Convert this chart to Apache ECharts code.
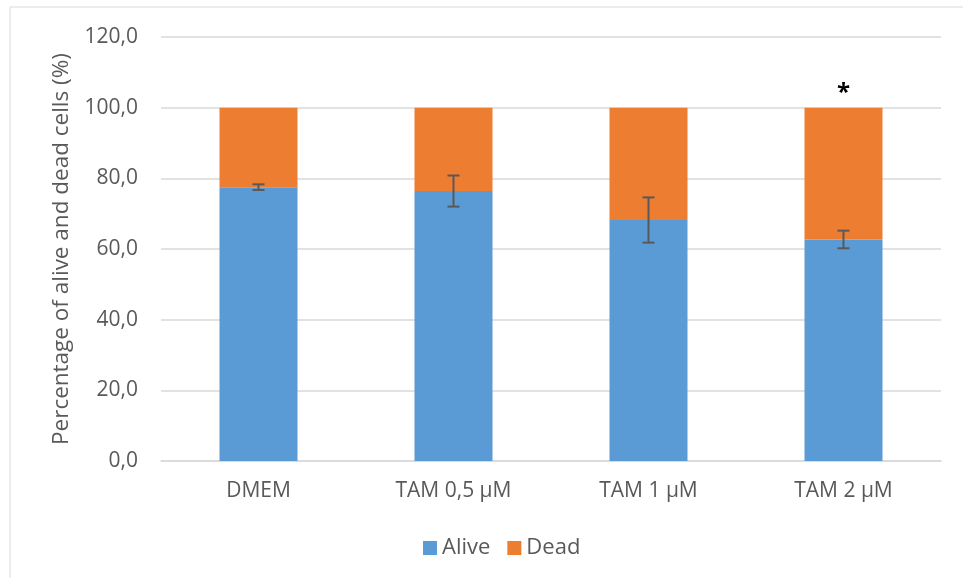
<!DOCTYPE html>
<html>
<head>
<meta charset="utf-8">
<script src="https://cdn.jsdelivr.net/npm/echarts@6/dist/echarts.min.js"></script>
<style>html,body{margin:0;padding:0;background:#fff}#c{width:963px;height:578px}</style>
</head>
<body>
<div id="c"></div>
<script>
const categories = ['DMEM', 'TAM 0,5 µM', 'TAM 1 µM', 'TAM 2 µM'];
const alive = [77.5, 76.4, 68.2, 62.7];
const dead = [22.5, 23.6, 31.8, 37.3];
const aliveErr = [0.8, 4.4, 6.4, 2.5];
const significance = ['', '', '', '*'];
const yTicks = [0, 20, 40, 60, 80, 100, 120];

const FONT = '"Open Sans", "Liberation Sans", sans-serif';
const chart = echarts.init(document.getElementById('c'));
chart.setOption({
  animation: false,
  graphic: [{
    type: 'rect', shape: {x: 10, y: 7, width: 1000, height: 700},
    style: {fill: 'none', stroke: '#d9d9d9', lineWidth: 1}, silent: true, z: -1
  }],
  grid: {left: 161, right: 22, top: 37, bottom: 117},
  legend: {
    data: ['Alive', 'Dead'], bottom: 14, left: 418,
    itemWidth: 14, itemHeight: 14, itemGap: 17,
    icon: 'rect',
    textStyle: {color: '#595959', fontSize: 22, fontFamily: FONT}
  },
  xAxis: {
    type: 'category', data: categories,
    axisTick: {show: false},
    axisLine: {lineStyle: {color: '#d9d9d9', width: 1.5}},
    axisLabel: {color: '#595959', fontSize: 21, fontFamily: FONT, margin: 20}
  },
  yAxis: {
    type: 'value', min: 0, max: 120, interval: 20,
    axisLabel: {color: '#595959', fontSize: 21, fontFamily: FONT, margin: 23,
      formatter: v => v.toFixed(1).replace('.', ',')},
    splitLine: {lineStyle: {color: '#d9d9d9', width: 1.5}},
    name: 'Percentage of alive and dead cells (%)',
    nameLocation: 'middle', nameGap: 88, nameRotate: 90,
    nameTextStyle: {color: '#595959', fontSize: 22.5, fontFamily: FONT}
  },
  series: [
    {name: 'Alive', type: 'bar', stack: 's', data: alive, barWidth: 78,
      itemStyle: {color: '#5b9bd5'}},
    {name: 'Dead', type: 'bar', stack: 's', data: dead, barWidth: 78,
      itemStyle: {color: '#ed7d31'},
      label: {show: true, position: 'top', distance: 3,
        formatter: p => significance[p.dataIndex],
        color: '#000', fontSize: 24, fontWeight: 'bold', fontFamily: FONT}},
    {type: 'custom', name: 'err', z: 10,
      data: alive.map((v, i) => [i, v - aliveErr[i], v + aliveErr[i]]),
      renderItem: (params, api) => {
        const lo = api.coord([api.value(0), api.value(1)]);
        const hi = api.coord([api.value(0), api.value(2)]);
        const hw = 6;
        const st = {stroke: '#595959', lineWidth: 2};
        return {type: 'group', children: [
          {type: 'line', shape: {x1: lo[0], y1: lo[1], x2: hi[0], y2: hi[1]}, style: st},
          {type: 'line', shape: {x1: lo[0]-hw, y1: lo[1], x2: lo[0]+hw, y2: lo[1]}, style: st},
          {type: 'line', shape: {x1: hi[0]-hw, y1: hi[1], x2: hi[0]+hw, y2: hi[1]}, style: st}
        ]};
      }}
  ]
});
</script>
</body>
</html>
